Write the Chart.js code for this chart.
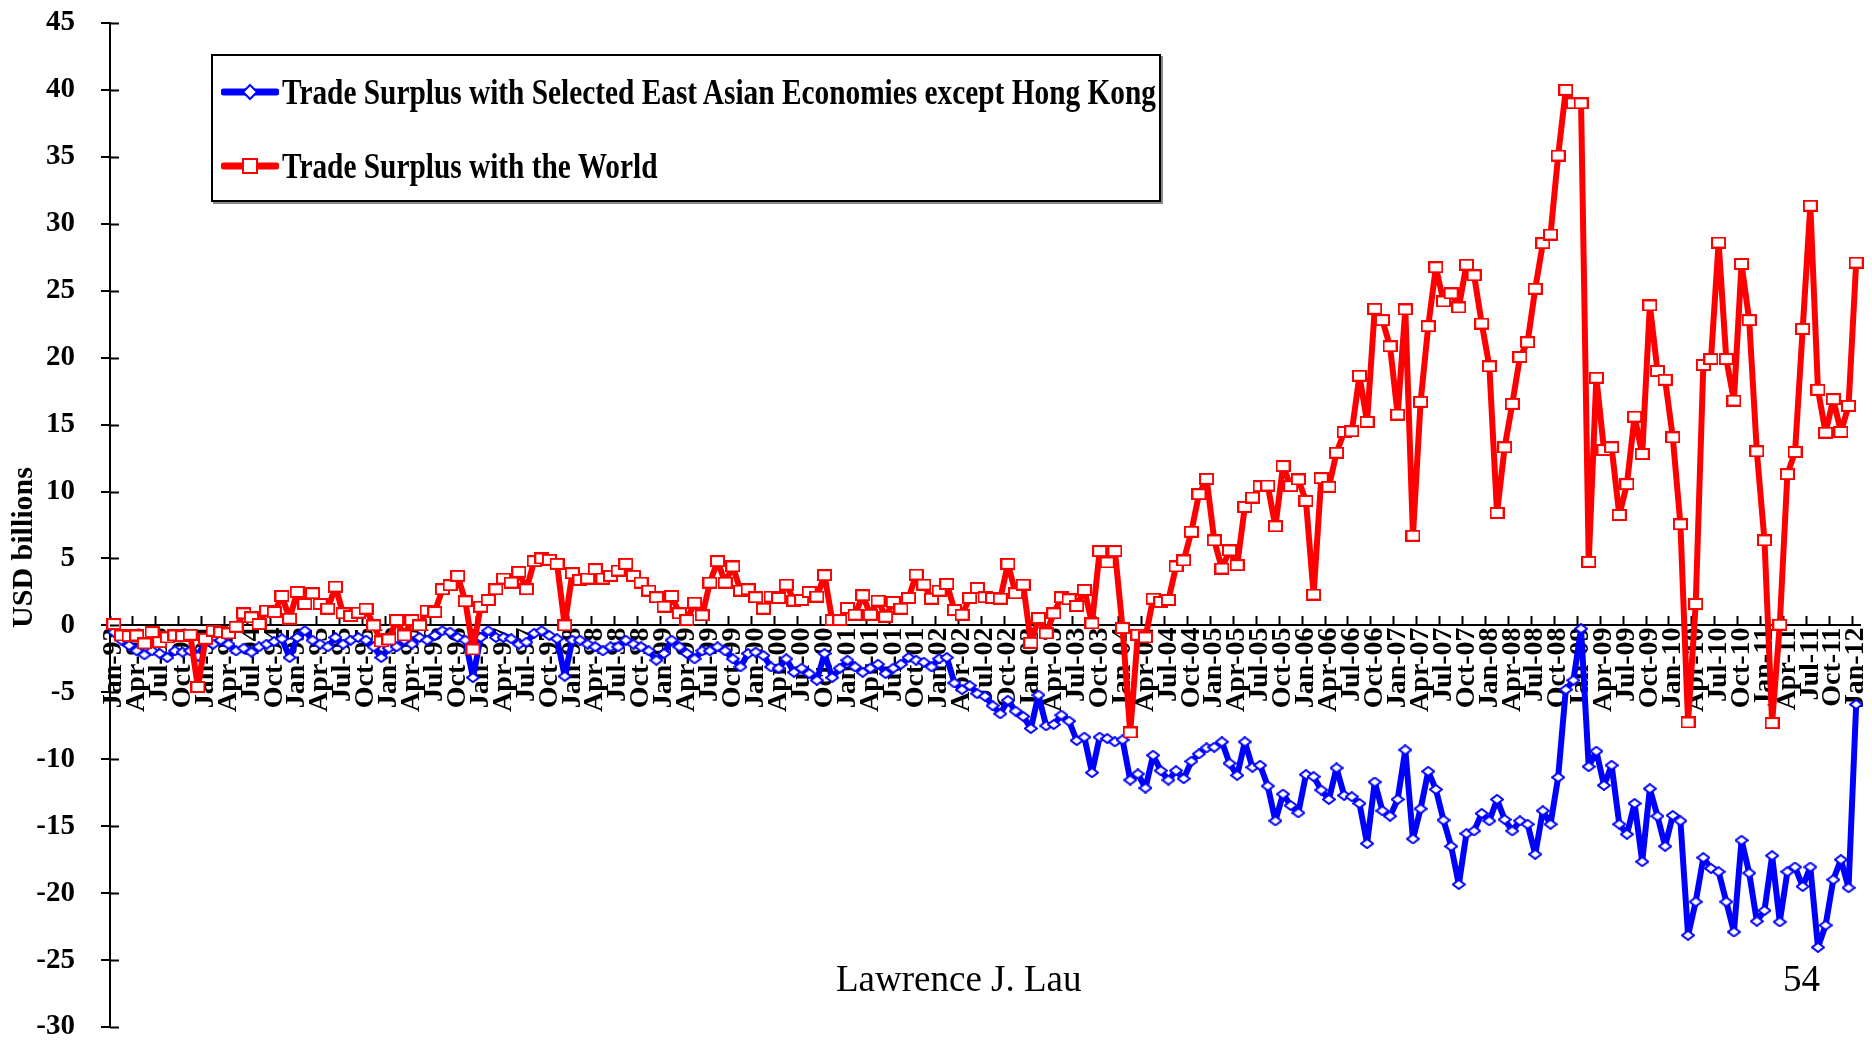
<!DOCTYPE html>
<html>
<head>
<meta charset="utf-8">
<title>Trade Surplus</title>
<script src="https://cdn.jsdelivr.net/npm/chart.js@4.4.1/dist/chart.umd.min.js"></script>
<style>
  html, body { margin: 0; padding: 0; background: #fff; }
  #wrap { position: relative; width: 1872px; height: 1040px; }
  #tradeChart { position: absolute; left: 0; top: 0; }
  #legendBox {
    position: absolute; left: 211px; top: 54px; width: 946px; height: 144px;
    border: 2px solid #000; box-shadow: 2px 2px 0 #888; background: #fff;
    font-family: "Liberation Serif", "Times New Roman", serif;
  }
  .legendRow { position: absolute; left: 8px; height: 40px; display: flex; align-items: center; white-space: nowrap; }
  .legendRow svg { flex: none; }
  .legendRow span {
    display: inline-block; font-size: 36px; font-weight: bold; color: #000;
    transform: scaleX(0.815); transform-origin: left center; margin-left: 3px;
  }
  .slideText { position: absolute; font-family: "Liberation Serif", "Times New Roman", serif; font-size: 37px; line-height: 1; color: #000; }
</style>
</head>
<body>
<div id="wrap">
  <canvas id="tradeChart" width="1872" height="1040"></canvas>
  <div id="legendBox">
    <div class="legendRow" style="top:16px">
      <svg width="58" height="20"><line x1="3" y1="10" x2="55" y2="10" stroke="#0000ff" stroke-width="7" stroke-linecap="round"/><polygon points="29,3 36,10 29,17 22,10" fill="#fff" stroke="#0000ff" stroke-width="2"/></svg>
      <span>Trade Surplus with Selected East Asian Economies except Hong Kong</span>
    </div>
    <div class="legendRow" style="top:90px">
      <svg width="58" height="20"><line x1="3" y1="10" x2="55" y2="10" stroke="#ff0000" stroke-width="7" stroke-linecap="round"/><rect x="22" y="3" width="14" height="14" fill="#fff" stroke="#ff0000" stroke-width="2"/></svg>
      <span>Trade Surplus with the World</span>
    </div>
  </div>
  <div class="slideText" style="left:836px; top:960px">Lawrence J. Lau</div>
  <div class="slideText" style="left:1783px; top:960px">54</div>
</div>
<script>
const monthNames = ['Jan', 'Feb', 'Mar', 'Apr', 'May', 'Jun', 'Jul', 'Aug', 'Sep', 'Oct', 'Nov', 'Dec'];
const firstYear = 1993, lastYear = 2012;

// USD billions, monthly Jan-93 .. Jan-12 (one row per year)
const worldSurplus = [
    0.1, -0.75, -0.8, -0.75, -1.35, -0.5, -1.25, -0.9, -0.75, -0.8, -0.7, -4.6,
    -1.0, -0.4, -0.5, -0.6, -0.1, 0.9, 0.6, 0.1, 1.1, 1.0, 2.2, 0.5,
    2.5, 1.6, 2.4, 1.6, 1.25, 2.9, 0.9, 0.7, 0.95, 1.25, 0.0, -1.2,
    -1.05, 0.4, -0.75, 0.4, 0.0, 1.1, 1.0, 2.7, 3.0, 3.7, 1.8, -1.8,
    1.4, 1.9, 2.7, 3.5, 3.2, 4.0, 2.7, 4.8, 5.0, 4.9, 4.6, 0.0,
    3.9, 3.4, 3.5, 4.2, 3.5, 3.7, 4.1, 4.6, 3.7, 3.2, 2.6, 2.1,
    1.4, 2.2, 0.9, 0.4, 1.7, 0.75, 3.2, 4.8, 3.2, 4.4, 2.6, 2.7,
    2.1, 1.25, 2.15, 2.05, 3.05, 1.85, 1.9, 2.5, 2.15, 3.75, 0.4, 0.4,
    1.3, 0.8, 2.25, 0.8, 1.85, 0.65, 1.75, 1.25, 2.05, 3.8, 3.05, 2.0,
    2.6, 3.1, 1.15, 0.8, 2.05, 2.8, 2.1, 2.05, 2.0, 4.6, 2.4, 3.05,
    -1.3, 0.55, -0.6, 0.9, 2.1, 1.95, 1.45, 2.65, 0.15, 5.55, 4.7, 5.55,
    -0.2, -8.0, -0.7, -0.9, 2.0, 1.75, 1.9, 4.4, 4.85, 7.0, 9.8, 10.95,
    6.35, 4.25, 5.6, 4.5, 8.85, 9.55, 10.4, 10.45, 7.4, 11.9, 10.4, 10.9,
    9.3, 2.3, 11.0, 10.35, 12.9, 14.45, 14.5, 18.65, 15.2, 23.65, 22.8, 20.85,
    15.75, 23.6, 6.7, 16.7, 22.35, 26.75, 24.2, 24.8, 23.75, 26.95, 26.15, 22.55,
    19.35, 8.4, 13.3, 16.55, 20.05, 21.15, 25.15, 28.55, 29.2, 35.1, 40.0, 39.0,
    39.0, 4.75, 18.5, 13.1, 13.3, 8.25, 10.55, 15.6, 12.8, 23.9, 19.0, 18.35,
    14.05, 7.55, -7.25, 1.6, 19.45, 19.9, 28.6, 19.9, 16.8, 27.0, 22.8, 13.0,
    6.35, -7.3, 0.05, 11.3, 12.95, 22.15, 31.35, 17.6, 14.4, 16.9, 14.45, 16.4,
    27.1
];

const eastAsiaSurplus = [
    -0.5, -1.1, -1.5, -1.9, -2.2, -1.9, -2.1, -2.4, -1.9, -2.0, -1.9, -2.3,
    -1.1, -1.4, -1.1, -1.4, -1.9, -1.7, -2.0, -1.6, -1.4, -1.2, -1.0, -2.4,
    -0.9, -0.4, -1.1, -1.4, -1.6, -0.9, -1.4, -1.1, -0.9, -1.1, -1.6, -2.4,
    -1.7, -1.6, -1.1, -1.4, -0.9, -1.1, -0.75, -0.4, -0.5, -0.9, -1.1, -3.9,
    -0.9, -0.4, -0.9, -0.9, -1.0, -1.4, -1.25, -0.6, -0.4, -0.75, -1.0, -3.8,
    -1.1, -1.1, -1.4, -1.6, -1.9, -1.6, -1.6, -1.1, -1.4, -1.6, -1.9, -2.6,
    -2.1, -1.1, -1.6, -2.1, -2.5, -1.9, -1.9, -1.6, -1.9, -2.5, -3.1, -2.1,
    -2.0, -2.25, -3.1, -3.2, -2.5, -3.5, -3.2, -3.6, -4.1, -2.1, -3.9, -3.2,
    -2.6, -3.1, -3.5, -3.2, -2.9, -3.6, -3.2, -2.9, -2.4, -2.6, -2.75, -3.1,
    -2.5, -2.4, -4.3, -4.8, -4.5, -5.1, -5.3, -6.0, -6.6, -5.6, -6.4, -6.8,
    -7.7, -5.2, -7.5, -7.4, -6.7, -7.15, -8.6, -8.35, -11.0, -8.35, -8.45, -8.7,
    -8.55, -11.55, -11.1, -12.15, -9.7, -10.85, -11.55, -10.85, -11.45, -10.15, -9.6, -9.15,
    -9.1, -8.7, -10.3, -11.2, -8.7, -10.6, -10.45, -12.0, -14.6, -12.6, -13.45, -14.0,
    -11.15, -11.3, -12.3, -13.0, -10.65, -12.7, -12.8, -13.3, -16.3, -11.7, -13.85, -14.25,
    -13.0, -9.3, -15.95, -13.7, -10.9, -12.25, -14.55, -16.5, -19.35, -15.55, -15.35, -14.05,
    -14.6, -13.0, -14.5, -15.35, -14.6, -14.85, -17.1, -13.85, -14.85, -11.35, -4.8, -4.1,
    -0.25, -10.55, -9.4, -11.95, -10.45, -14.85, -15.6, -13.3, -17.65, -12.2, -14.25, -16.5,
    -14.2, -14.6, -23.15, -20.65, -17.35, -18.15, -18.4, -20.65, -22.9, -16.05, -18.5, -22.1,
    -21.3, -17.2, -22.15, -18.4, -18.05, -19.5, -18.05, -24.05, -22.4, -19.0, -17.5, -19.6,
    -5.9
];

const yMin = -30, yMax = 45, yStep = 5;

// category labels Jan-93 .. Jan-12
const monthLabels = [];
for (let yr = firstYear; yr <= lastYear; yr++) {
    for (let m = 0; m < 12; m++) {
        if (yr === lastYear && m > 0) break;
        monthLabels.push(monthNames[m] + '-' + String(yr).slice(2));
    }
}

function makeMarker(w, h, color, shape) {
    const c = document.createElement('canvas');
    c.width = w; c.height = h;
    const g = c.getContext('2d');
    g.fillStyle = '#fff'; g.strokeStyle = color; g.lineWidth = 2;
    g.beginPath();
    if (shape === 'square') {
        g.rect(1, 1, w - 2, h - 2);
    } else {
        g.moveTo(w / 2, 1); g.lineTo(w - 1, h / 2); g.lineTo(w / 2, h - 1); g.lineTo(1, h / 2); g.closePath();
    }
    g.fill(); g.stroke();
    return c;
}

// y ticks in Excel cross the axis: draw the inner half
const crossTicks = {
    id: 'crossTicks',
    afterDraw(chart) {
        const y = chart.scales.y, c = chart.ctx, x0 = chart.chartArea.left;
        c.save();
        c.strokeStyle = '#000'; c.lineWidth = 2;
        y.ticks.forEach(t => {
            const py = Math.round(y.getPixelForValue(t.value)) + 0.5;
            c.beginPath(); c.moveTo(x0, py); c.lineTo(x0 + 9, py); c.stroke();
        });
        c.restore();
    }
};

Chart.defaults.font.family = '"Liberation Serif", "Times New Roman", serif';
Chart.defaults.color = '#000';

const ctx = document.getElementById('tradeChart').getContext('2d');
new Chart(ctx, {
    type: 'line',
    data: {
        labels: monthLabels,
        datasets: [
            {
                label: 'Trade Surplus with Selected East Asian Economies except Hong Kong',
                data: eastAsiaSurplus,
                borderColor: '#0000ff',
                borderWidth: 6,
                borderJoinStyle: 'round',
                pointStyle: makeMarker(14, 11, '#0000ff', 'diamond'),
                pointRadius: 6,
                order: 1
            },
            {
                label: 'Trade Surplus with the World',
                data: worldSurplus,
                borderColor: '#ff0000',
                borderWidth: 6,
                borderJoinStyle: 'round',
                pointStyle: makeMarker(15, 12, '#ff0000', 'square'),
                pointRadius: 6,
                order: 0
            }
        ]
    },
    options: {
        responsive: false,
        animation: false,
        devicePixelRatio: 1,
        layout: { padding: { top: 23, bottom: 13, left: 0, right: 8 } },
        elements: { line: { tension: 0 } },
        plugins: {
            legend: { display: false },
            tooltip: { enabled: false }
        },
        scales: {
            x: {
                type: 'category',
                position: { y: 0 },
                offset: true,
                grid: {
                    offset: true,
                    drawOnChartArea: false,
                    tickLength: -10,
                    tickWidth: 2,
                    tickColor: (c) => (c.index % 3 === 0 && c.index < monthLabels.length) ? '#000' : 'rgba(0,0,0,0)'
                },
                border: { color: '#000', width: 2 },
                ticks: {
                    autoSkip: false,
                    minRotation: 90,
                    maxRotation: 90,
                    padding: 12,
                    font: { size: 28, weight: 'bold' },
                    callback: function (value, index) {
                        return index % 3 === 0 ? this.getLabelForValue(value) : '';
                    }
                },
                afterFit(scale) { scale.paddingLeft = 0; scale.paddingRight = 0; }
            },
            y: {
                min: yMin,
                max: yMax,
                ticks: { stepSize: yStep, padding: 26, font: { size: 29, weight: 'bold' } },
                grid: { drawOnChartArea: false, tickLength: 9, color: '#000', lineWidth: 2 },
                border: { color: '#000', width: 2 },
                title: {
                    display: true,
                    text: 'USD billions\u00a0\u00a0\u00a0\u00a0\u00a0\u00a0',
                    font: { size: 30, weight: 'bold' },
                    padding: { top: 6 }
                },
                afterFit(scale) { scale.width = 110; scale.paddingTop = 0; scale.paddingBottom = 0; }
            }
        }
    },
    plugins: [crossTicks]
});
</script>
</body>
</html>
